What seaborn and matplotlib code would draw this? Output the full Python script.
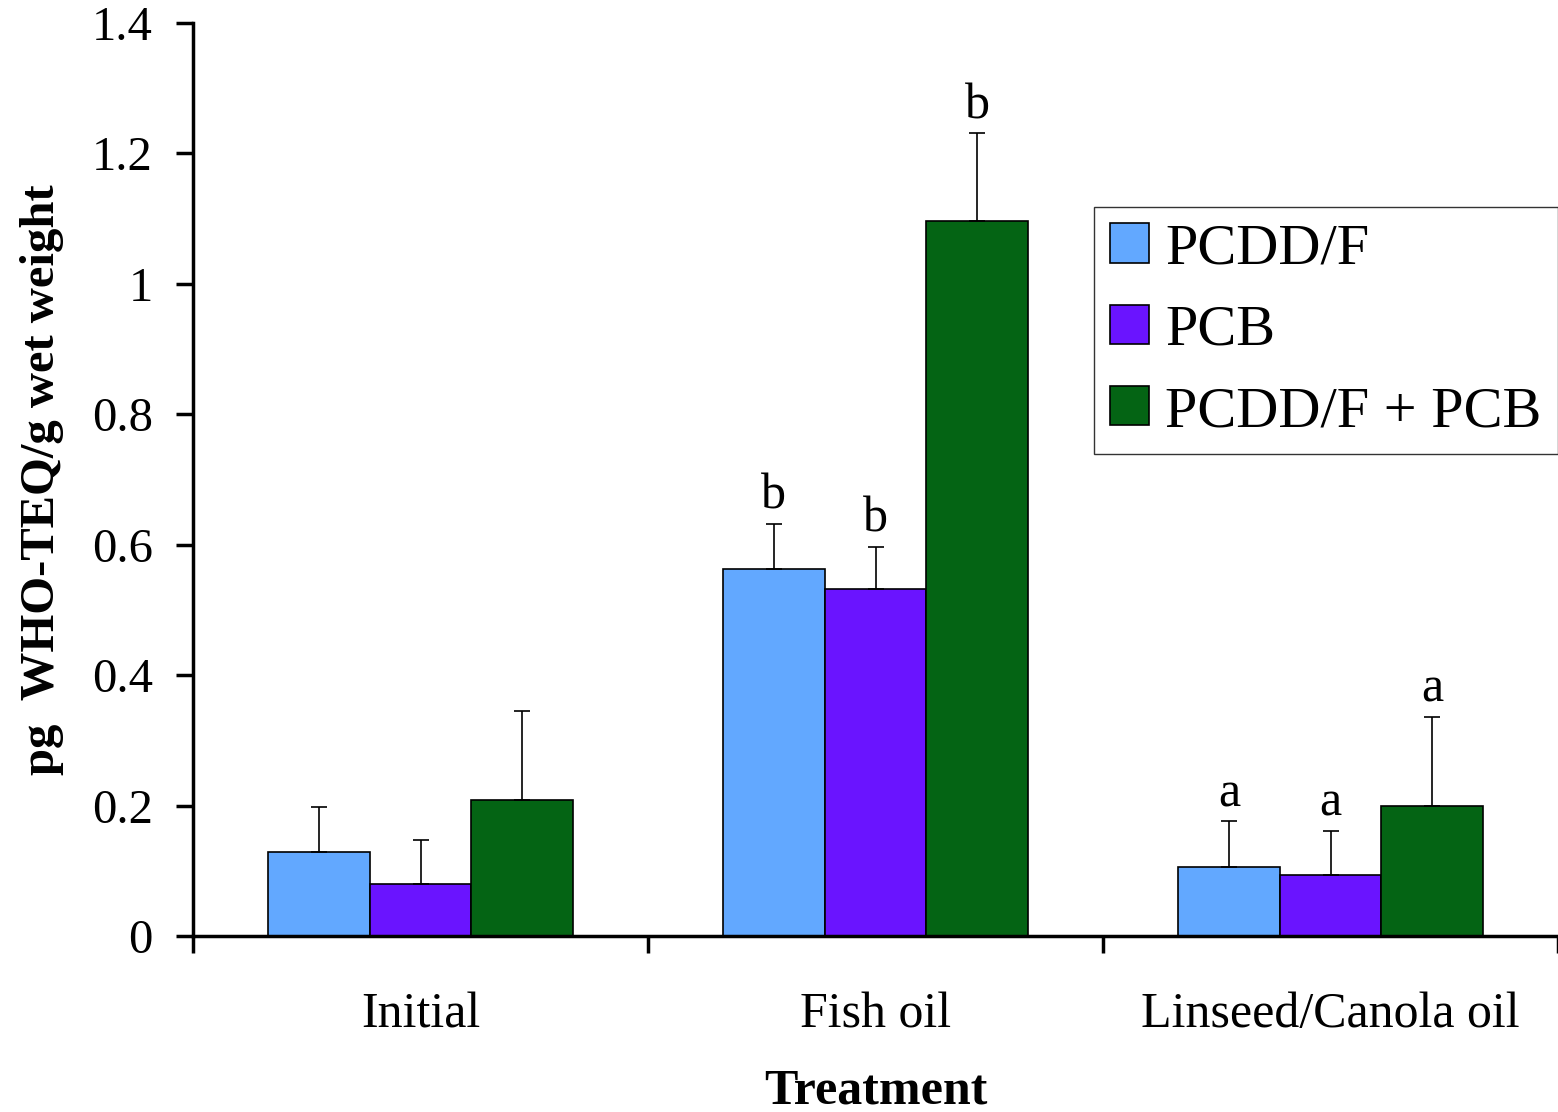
import matplotlib
matplotlib.use("Agg")
import matplotlib.pyplot as plt
import seaborn as sns
import pandas as pd
import numpy as np

categories = ["Initial", "Fish oil", "Linseed/Canola oil"]
series = ["PCDD/F", "PCB", "PCDD/F + PCB"]
pcddf = [0.129, 0.563, 0.106]
pcb = [0.080, 0.532, 0.094]
total = [0.209, 1.096, 0.199]
pcddf_err = [0.069, 0.069, 0.070]
pcb_err = [0.067, 0.065, 0.067]
total_err = [0.136, 0.135, 0.137]
letters_pcddf = ["", "b", "a"]
letters_pcb = ["", "b", "a"]
letters_total = ["", "b", "a"]
colors = ["#62A8FF", "#6A14FF", "#046414"]

values = [pcddf, pcb, total]
errors = [pcddf_err, pcb_err, total_err]
letters = [letters_pcddf, letters_pcb, letters_total]

rows = []
for s, vals in zip(series, values):
    for c, v in zip(categories, vals):
        rows.append({"Treatment": c, "Series": s, "Value": v})
df = pd.DataFrame(rows)

sns.set_theme(style="white")
plt.rcParams["font.family"] = ["Liberation Serif", "DejaVu Serif"]
plt.rcParams["text.color"] = "black"
plt.rcParams["axes.labelcolor"] = "black"
plt.rcParams["xtick.color"] = "black"
plt.rcParams["ytick.color"] = "black"

fig = plt.figure(figsize=(15.58, 11.12), dpi=100)
ax = fig.add_axes([193/1558, 1-936/1112, 1-193/1558, (936-23)/1112])

sns.barplot(data=df, x="Treatment", y="Value", hue="Series", order=categories,
            hue_order=series, palette=colors, edgecolor="black", linewidth=1.2,
            width=0.67, gap=0, errorbar=None, ax=ax, saturation=1)

for cont, errs, labs in zip(ax.containers, errors, letters):
    xs = [p.get_x() + p.get_width()/2 for p in cont]
    ys = [p.get_height() for p in cont]
    ax.errorbar(xs, ys, yerr=[np.zeros(len(errs)), errs], fmt="none",
                ecolor="black", elinewidth=1.2, capsize=6, capthick=1.2, zorder=1)
    for x, y, e, lab in zip(xs, ys, errs, labs):
        if lab:
            ax.annotate(lab, (x, y + e), xytext=(0, 3), textcoords="offset points",
                        ha="center", va="bottom", fontsize=36)

ax.set_xlim(-0.5, 2.5)
ax.set_ylim(0, 1.4)
ax.set_yticks(np.arange(0, 1.41, 0.2))
ax.set_yticklabels(["0", "0.2", "0.4", "0.6", "0.8", "1", "1.2", "1.4"])
ax.set_xticks(range(len(categories)))
ax.set_xticklabels(categories)
ax.set_xticks([-0.5, 0.5, 1.5, 2.5], minor=True)
ax.tick_params(axis="x", which="major", length=0, pad=40, labelsize=36)
ax.tick_params(axis="x", which="minor", length=12, width=2.5, direction="out", bottom=True)
ax.tick_params(axis="y", length=12, width=2.5, direction="out", left=True, labelsize=35, pad=17)

for side in ["top", "right"]:
    ax.spines[side].set_visible(False)
for side in ["left", "bottom"]:
    ax.spines[side].set_linewidth(2.5)
    ax.spines[side].set_color("black")

ax.set_xlabel("Treatment", fontsize=36, fontweight="bold", labelpad=22)
ax.set_ylabel("pg  WHO-TEQ/g wet weight", fontsize=35, fontweight="bold", labelpad=20)

leg = ax.legend(loc="upper right", bbox_to_anchor=(1.0, (936-207)/913), borderaxespad=0,
                fontsize=42, frameon=True, fancybox=False, edgecolor="black",
                handlelength=0.66, handleheight=0.66, labelspacing=0.5,
                handletextpad=0.28, borderpad=0.28, title=None)
leg.get_frame().set_linewidth(1.0)

fig.savefig("out.png", dpi=100)
